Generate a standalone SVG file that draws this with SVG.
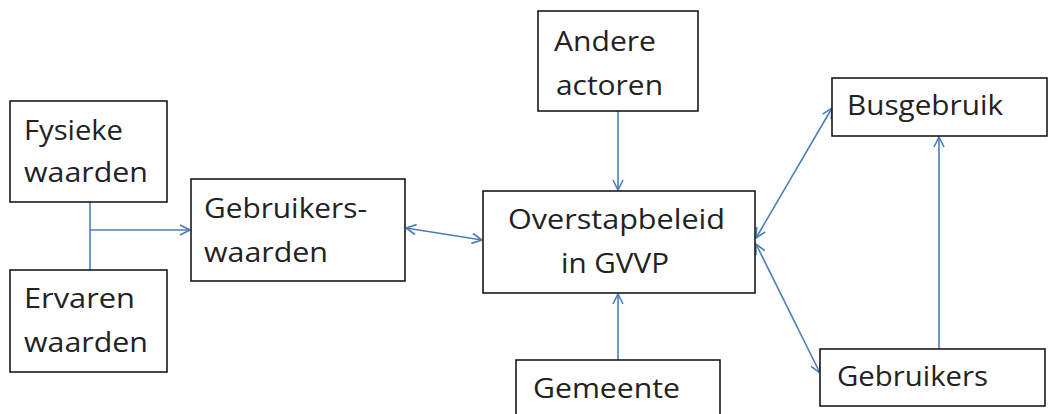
<svg xmlns="http://www.w3.org/2000/svg" width="1050" height="414" viewBox="0 0 1050 414">
<style>
.box{fill:#fff;stroke:#1a1a1a;stroke-width:1.6}
.t{font-family:"Open Sans","Liberation Sans",sans-serif;font-size:28px;fill:#222}
.c{stroke:#4a7ebb;stroke-width:1.6;fill:none}
</style>
<defs>
<marker id="ah" viewBox="0 0 12 12" refX="11" refY="6" markerWidth="12" markerHeight="12" markerUnits="userSpaceOnUse" orient="auto-start-reverse">
<path d="M1,1 L11,6 L1,11" fill="none" stroke="#4a7ebb" stroke-width="1.6"/>
</marker>
</defs>
<rect width="1050" height="414" fill="#fff"/>
<g id="connectors">
<line class="c" x1="90" y1="202" x2="90" y2="270"/>
<line class="c" x1="90" y1="230" x2="190" y2="230" marker-end="url(#ah)"/>
<line class="c" x1="406" y1="228" x2="482" y2="240" marker-start="url(#ah)" marker-end="url(#ah)"/>
<line class="c" x1="618" y1="111" x2="618" y2="190" marker-end="url(#ah)"/>
<line class="c" x1="618" y1="360" x2="618" y2="294" marker-end="url(#ah)"/>
<line class="c" x1="756" y1="238" x2="832" y2="108" marker-start="url(#ah)" marker-end="url(#ah)"/>
<line class="c" x1="756" y1="244" x2="820" y2="373" marker-start="url(#ah)" marker-end="url(#ah)"/>
<line class="c" x1="939" y1="349" x2="939" y2="137" marker-end="url(#ah)"/>
</g>
<g id="fysieke">
<rect class="box" x="10" y="101" width="157" height="101"/>
<text class="t" x="24" y="140" textLength="99" lengthAdjust="spacingAndGlyphs">Fysieke</text>
<text class="t" x="24" y="182" textLength="124" lengthAdjust="spacingAndGlyphs">waarden</text>
</g>
<g id="ervaren">
<rect class="box" x="10" y="270" width="157" height="102"/>
<text class="t" x="24" y="308" textLength="111" lengthAdjust="spacingAndGlyphs">Ervaren</text>
<text class="t" x="24" y="352" textLength="124" lengthAdjust="spacingAndGlyphs">waarden</text>
</g>
<g id="gebruikerswaarden">
<rect class="box" x="191" y="179" width="214" height="102"/>
<text class="t" x="204" y="218" textLength="163" lengthAdjust="spacingAndGlyphs">Gebruikers-</text>
<text class="t" x="204" y="262" textLength="124" lengthAdjust="spacingAndGlyphs">waarden</text>
</g>
<g id="andere">
<rect class="box" x="538" y="11" width="160" height="100"/>
<text class="t" x="554" y="51" textLength="102" lengthAdjust="spacingAndGlyphs">Andere</text>
<text class="t" x="556" y="95" textLength="107" lengthAdjust="spacingAndGlyphs">actoren</text>
</g>
<g id="overstap">
<rect class="box" x="483" y="191" width="272" height="102"/>
<text class="t" x="508" y="229" textLength="217" lengthAdjust="spacingAndGlyphs">Overstapbeleid</text>
<text class="t" x="561" y="273" textLength="108" lengthAdjust="spacingAndGlyphs">in GVVP</text>
</g>
<g id="gemeente">
<rect class="box" x="516" y="360" width="204" height="70"/>
<text class="t" x="533" y="398" textLength="147" lengthAdjust="spacingAndGlyphs">Gemeente</text>
</g>
<g id="busgebruik">
<rect class="box" x="832" y="78" width="215" height="58"/>
<text class="t" x="847" y="115" textLength="156" lengthAdjust="spacingAndGlyphs">Busgebruik</text>
</g>
<g id="gebruikers">
<rect class="box" x="820" y="349" width="225" height="57"/>
<text class="t" x="837" y="386" textLength="151" lengthAdjust="spacingAndGlyphs">Gebruikers</text>
</g>
</svg>
